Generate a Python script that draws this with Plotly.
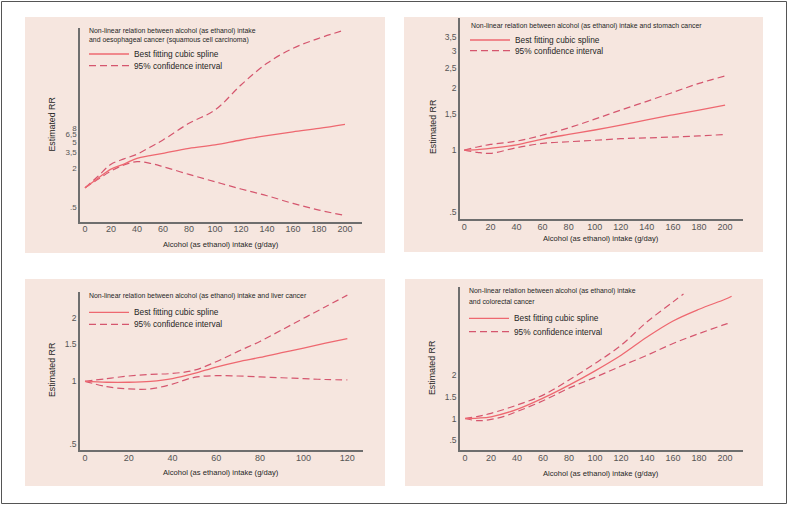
import plotly.graph_objects as go

W, H = 788, 506

# ---------------- data ----------------
# Panel 1: oesophageal cancer (squamous cell carcinoma)
p1_x = [0, 10, 20, 30, 40, 50, 60, 80, 100, 120, 140, 160, 180, 200]
p1_fit = [1.0, 1.40, 1.93, 2.30, 2.81, 3.08, 3.35, 3.99, 4.48, 5.33, 6.2, 7.1, 8.0, 9.2]
p1_upper = [1.0, 1.5, 2.28, 2.75, 3.24, 4.14, 5.33, 9.56, 15.2, 36.5, 78, 132, 187, 250]
p1_lower = [1.0, 1.35, 1.8, 2.23, 2.5, 2.36, 2.1, 1.6, 1.24, 0.96, 0.76, 0.58, 0.46, 0.38]
p1_yticks = [0.5, 2, 3.5, 5, 6.5, 8]
p1_yticklabels = [".5", "2", "3,5", "5", "6,5", "8"]

# Panel 2: stomach cancer
p2_x = [0, 10, 20, 40, 60, 80, 100, 120, 140, 160, 180, 200]
p2_fit = [1.0, 1.005, 1.02, 1.06, 1.13, 1.19, 1.25, 1.32, 1.40, 1.48, 1.56, 1.65]
p2_upper = [1.0, 1.035, 1.065, 1.105, 1.18, 1.28, 1.41, 1.56, 1.72, 1.90, 2.10, 2.28]
p2_lower = [1.0, 0.975, 0.964, 1.026, 1.077, 1.097, 1.115, 1.135, 1.145, 1.156, 1.17, 1.19]
p2_yticks = [0.5, 1, 1.5, 2, 2.5, 3, 3.5]
p2_yticklabels = [".5", "1", "1,5", "2", "2,5", "3", "3,5"]

# Panel 3: liver cancer
p3_x = [0, 10, 20, 30, 40, 50, 60, 70, 80, 90, 100, 110, 120]
p3_fit = [1.0, 0.99, 0.99, 1.0, 1.03, 1.09, 1.17, 1.24, 1.30, 1.37, 1.44, 1.52, 1.60]
p3_upper = [1.0, 1.03, 1.06, 1.08, 1.09, 1.13, 1.24, 1.39, 1.55, 1.76, 2.0, 2.27, 2.58]
p3_lower = [1.0, 0.943, 0.92, 0.92, 0.97, 1.045, 1.064, 1.06, 1.05, 1.04, 1.03, 1.02, 1.015]
p3_yticks = [0.5, 1, 1.5, 2]
p3_yticklabels = [".5", "1", "1.5", "2"]

# Panel 4: colorectal cancer
p4_x_fit = [0, 10, 20, 40, 60, 80, 100, 120, 140, 160, 180, 200, 205]
p4_fit = [1.0, 1.01, 1.04, 1.21, 1.47, 1.77, 2.10, 2.46, 2.88, 3.25, 3.52, 3.75, 3.82]
p4_x_upper = [0, 10, 20, 40, 60, 80, 100, 120, 140, 160, 168]
p4_upper = [1.0, 1.05, 1.12, 1.31, 1.54, 1.89, 2.27, 2.69, 3.23, 3.69, 3.87]
p4_x_lower = [0, 10, 20, 30, 40, 60, 80, 100, 120, 140, 160, 180, 200, 205]
p4_lower = [1.0, 0.95, 0.98, 1.05, 1.16, 1.41, 1.70, 1.95, 2.21, 2.46, 2.73, 2.96, 3.17, 3.21]
p4_yticks = [0.5, 1, 1.5, 2]
p4_yticklabels = [".5", "1", "1.5", "2"]

xticks_200 = [0, 20, 40, 60, 80, 100, 120, 140, 160, 180, 200]
xticks_120 = [0, 20, 40, 60, 80, 100, 120]

title_p1 = ["Non-linear relation between alcohol (as ethanol) intake",
            "and oesophageal cancer (squamous cell carcinoma)"]
title_p2 = ["Non-linear relation between alcohol (as ethanol) intake and stomach cancer"]
title_p3 = ["Non-linear relation between alcohol (as ethanol) intake and liver cancer"]
title_p4 = ["Non-linear relation between alcohol (as ethanol) intake",
            "and colorectal cancer"]
legend_fit = "Best fitting cubic spline"
legend_ci = "95% confidence interval"
xlabel = "Alcohol (as ethanol) intake (g/day)"
ylabel = "Estimated RR"

# ---------------- style ----------------
FONT = "Liberation Sans Narrow, Arial Narrow, Liberation Sans, Arial, sans-serif"
PANEL_BG = "#f6e6df"
SOLID = "#ee6870"
DASHED = "#d5566e"
AXIS = "#6e6e6e"
TICK = "#555555"
TEXT = "#262626"
DASH = "7px,4px"
TITLE_SIZE = 6.9
LEGEND_SIZE = 8.3
XLABEL_SIZE = 7.6
YLABEL_SIZE = 8.8


def X(px):
    return px / W


def Y(py):
    return 1 - py / H


fig = go.Figure()

panels = [
    dict(n=1, xl=80, xr=362, yb=221.7, yt=28, xrange=[-3.85, 213.1], yrange=[-0.514, 2.428], ytype="log",
         fit=(p1_x, p1_fit), up=(p1_x, p1_upper), lo=(p1_x, p1_lower),
         yticks=p1_yticks, ylabels=p1_yticklabels, ytsize=8, xticks=xticks_200,
         title=title_p1, tx=87, ty=30.7, tdy=8.8, leg_y=(54, 65.7), leg_x=89,
         xlab=(221, 244), ylab=(51.5, 125)),
    dict(n=2, xl=460, xr=742.7, yb=219, yt=18, xrange=[-3.3, 213.5], yrange=[-0.333, 0.638], ytype="log",
         fit=(p2_x, p2_fit), up=(p2_x, p2_upper), lo=(p2_x, p2_lower),
         yticks=p2_yticks, ylabels=p2_yticklabels, ytsize=8.5, xticks=xticks_200,
         title=title_p2, tx=469, ty=25.7, tdy=9, leg_y=(40, 50.7), leg_x=470,
         xlab=(601, 239), ylab=(433, 127)),
    dict(n=3, xl=80, xr=363.3, yb=450, yt=291.7, xrange=[-2.29, 127.3], yrange=[-0.328, 0.428], ytype="log",
         fit=(p3_x, p3_fit), up=(p3_x, p3_upper), lo=(p3_x, p3_lower),
         yticks=p3_yticks, ylabels=p3_yticklabels, ytsize=8.5, xticks=xticks_120,
         title=title_p3, tx=87, ty=295.7, tdy=9, leg_y=(312.3, 324.3), leg_x=89,
         xlab=(221, 472.7), ylab=(52, 370)),
    dict(n=4, xl=460, xr=743.3, yb=450, yt=286.7, xrange=[-3.85, 214], yrange=[0.274, 4.04], ytype="linear",
         fit=(p4_x_fit, p4_fit), up=(p4_x_upper, p4_upper), lo=(p4_x_lower, p4_lower),
         yticks=p4_yticks, ylabels=p4_yticklabels, ytsize=8.5, xticks=xticks_200,
         title=title_p4, tx=467, ty=291, tdy=10, leg_y=(318.3, 331.7), leg_x=469,
         xlab=(601, 473.3), ylab=(432, 368)),
]

shapes = []
annotations = []

# panel backgrounds
for (x0, y0, x1, y1) in [(25, 17, 385, 253), (404, 17, 763, 252), (25, 279, 385, 486), (405, 279, 763, 486)]:
    shapes.append(dict(type="rect", xref="paper", yref="paper", x0=X(x0), x1=X(x1), y0=Y(y1), y1=Y(y0),
                       fillcolor=PANEL_BG, line=dict(width=0), layer="below"))

# outer frame
shapes.append(dict(type="rect", xref="paper", yref="paper", x0=X(1.5), x1=X(786.5), y0=Y(503.5), y1=Y(1.5),
                   line=dict(color="#555555", width=1), layer="below"))

for p in panels:
    n = p["n"]
    xa = "x" if n == 1 else f"x{n}"
    ya = "y" if n == 1 else f"y{n}"
    for key, color, dash, width in [("up", DASHED, DASH, 1.2), ("lo", DASHED, DASH, 1.2), ("fit", SOLID, "solid", 1.3)]:
        xs, ys = p[key]
        fig.add_trace(go.Scatter(x=xs, y=ys, mode="lines", xaxis=xa, yaxis=ya, showlegend=False,
                                 line=dict(color=color, width=width, dash=dash, shape="spline", smoothing=1.0),
                                 hoverinfo="skip"))
    xkey = "xaxis" if n == 1 else f"xaxis{n}"
    ykey = "yaxis" if n == 1 else f"yaxis{n}"
    fig.update_layout(**{
        xkey: dict(domain=[X(p["xl"]), X(p["xr"])], anchor=ya, range=p["xrange"],
                   showline=True, linecolor=AXIS, linewidth=1.5, showgrid=False, zeroline=False,
                   ticks="", tickvals=p["xticks"], ticktext=[str(v) for v in p["xticks"]],
                   ticklabelstandoff=-2,
                   tickfont=dict(family=FONT, size=9, color=TICK)),
        ykey: dict(domain=[Y(p["yb"]), Y(p["yt"])], anchor=xa, range=p["yrange"], type=p["ytype"],
                   showline=True, linecolor=AXIS, linewidth=1.5, showgrid=False, zeroline=False,
                   ticks="", tickvals=p["yticks"], ticktext=p["ylabels"],
                   tickfont=dict(family=FONT, size=p["ytsize"], color=TICK)),
    })
    # title lines
    for i, line in enumerate(p["title"]):
        annotations.append(dict(xref="paper", yref="paper", x=X(p["tx"]), y=Y(p["ty"] + i * p["tdy"]),
                                text=line, showarrow=False, xanchor="left", yanchor="middle",
                                font=dict(family=FONT, size=TITLE_SIZE, color=TEXT)))
    # legend samples
    ly1, ly2 = p["leg_y"]
    lx = p["leg_x"]
    shapes.append(dict(type="line", xref="paper", yref="paper", x0=X(lx), x1=X(lx + 40), y0=Y(ly1), y1=Y(ly1),
                       line=dict(color=SOLID, width=1.3)))
    shapes.append(dict(type="line", xref="paper", yref="paper", x0=X(lx), x1=X(lx + 40), y0=Y(ly2), y1=Y(ly2),
                       line=dict(color=DASHED, width=1.2, dash=DASH)))
    for ly, txt in [(ly1, legend_fit), (ly2, legend_ci)]:
        annotations.append(dict(xref="paper", yref="paper", x=X(lx + 43), y=Y(ly), text=txt, showarrow=False,
                                xanchor="left", yanchor="middle", font=dict(family=FONT, size=LEGEND_SIZE, color=TEXT)))
    # axis titles
    annotations.append(dict(xref="paper", yref="paper", x=X(p["xlab"][0]), y=Y(p["xlab"][1]), text=xlabel,
                            showarrow=False, xanchor="center", yanchor="middle",
                            font=dict(family=FONT, size=XLABEL_SIZE, color=TEXT)))
    annotations.append(dict(xref="paper", yref="paper", x=X(p["ylab"][0]), y=Y(p["ylab"][1]), text=ylabel,
                            showarrow=False, xanchor="center", yanchor="middle", textangle=-90,
                            font=dict(family=FONT, size=YLABEL_SIZE, color=TEXT)))

fig.update_layout(width=W, height=H, margin=dict(l=0, r=0, t=0, b=0),
                  paper_bgcolor="white", plot_bgcolor="rgba(0,0,0,0)",
                  shapes=shapes, annotations=annotations, showlegend=False,
                  font=dict(family=FONT))

fig.write_html("out.html",
               config={"displayModeBar": False},
               post_script="document.body.style.margin='0';document.body.style.padding='0';"
                           "document.documentElement.style.overflow='hidden';")
